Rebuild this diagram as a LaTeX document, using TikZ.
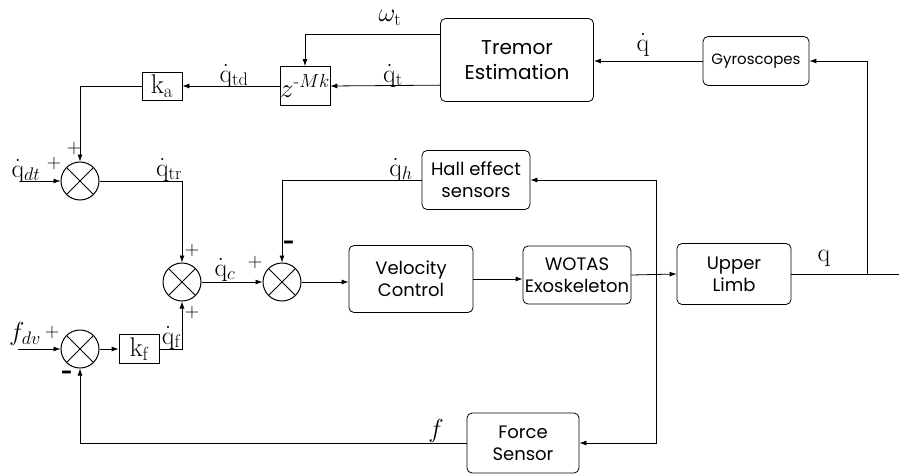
\RequirePackage{fix-cm}
\documentclass[tikz,border=0pt]{standalone}
\usepackage{amsmath}
\usepackage{fontspec}
\newfontfamily\boxfont{Poppins}
\usetikzlibrary{positioning, arrows.meta, calc}

\begin{document}
\begin{tikzpicture}[
    x=1pt, y=-1pt,
    >={Latex[length=7pt, width=5pt]},
    box/.style={
        draw, rounded corners=5pt, line width=0.8pt,
        align=center, inner sep=0pt,
        font=\boxfont\fontsize{18}{22}\selectfont,
    },
    gain/.style={draw, line width=0.8pt, inner sep=0pt, font=\fontsize{27}{30}\selectfont},
    sum/.style={draw, circle, line width=1pt, minimum size=38pt, inner sep=0pt,
        path picture={
            \draw[line width=0.8pt] (path picture bounding box.north west) -- (path picture bounding box.south east)
                (path picture bounding box.north east) -- (path picture bounding box.south west);
        }},
    sig/.style={font=\fontsize{26}{30}\selectfont, inner sep=0pt},
    sign/.style={font=\fontsize{20}{22}\selectfont, inner sep=0pt},
    neg/.style={font=\boxfont\bfseries\fontsize{20}{22}\selectfont, inner sep=0pt},
    arrow/.style={->, line width=0.8pt},
    line/.style={line width=0.8pt},
]
\useasboundingbox (0,0) rectangle (899,474);

% ============ BLOCKS ============
\node[box, minimum width=153pt, minimum height=83pt, font=\boxfont\fontsize{20}{25}\selectfont] (trem) at (517,60) {Tremor\\Estimation};
\node[box, minimum width=106pt, minimum height=49pt, font=\boxfont\fontsize{15}{18}\selectfont] (gyro) at (756,61) {Gyroscopes};
\node[box, minimum width=108pt, minimum height=59pt] (hall)  at (476,180) {Hall effect\\sensors};
\node[box, minimum width=124pt, minimum height=67pt] (vel)   at (411,279) {Velocity\\Control};
\node[box, minimum width=108pt, minimum height=58pt] (wotas) at (577,275) {WOTAS\\Exoskeleton};
\node[box, minimum width=114pt, minimum height=61pt] (limb)  at (734,274) {Upper\\Limb};
\node[box, minimum width=112pt, minimum height=60pt] (force) at (523,443) {Force\\Sensor};

\node[gain, minimum width=46pt, minimum height=39pt] (delay) at (305,86) {$z^{\text{-}Mk}$};
\node[gain, minimum width=40pt, minimum height=28pt] (ka) at (162,86) {$\mathrm{k}_{\mathrm{a}}$};
\node[gain, minimum width=40pt, minimum height=29pt] (kf) at (139,349) {$\mathrm{k}_{\mathrm{f}}$};

% summing junctions
\node[sum] (sumt) at (80,181) {};
\node[sum] (sumc) at (182,282) {};
\node[sum] (sumh) at (282,282) {};
\node[sum] (sumf) at (80,349) {};

% free ends
\coordinate (indt) at (20,181);
\coordinate (indv) at (18,349);
\coordinate (qout) at (899,274);
\coordinate (qtap) at (867,274);
\coordinate (tap)  at (656,274);

% ============ CONNECTIONS ============
\draw[arrow] (gyro.west) -- (gyro.west -| trem.east);
\draw[arrow] (qtap) |- (gyro.east);
\draw[line]  (limb.east) -- (qout);

\draw[arrow] ($(trem.north west)!0.2!(trem.south west)$) -| (delay.north);
\draw[arrow] ($(trem.north west)!0.8!(trem.south west)$) -- (delay.east);
\draw[arrow] (delay.west) -- (ka.east);
\draw[arrow] (ka.west) -| (sumt.north);
\draw[arrow] (indt) -- (sumt.west);
\draw[arrow] (sumt.east) -| (sumc.north);
\draw[arrow] (sumc.east) -- (sumh.west);
\draw[arrow] (hall.west) -| (sumh.north);
\draw[arrow] (sumh.east) -- (sumh.east -| vel.west);
\draw[arrow] (vel.east) -- (vel.east -| wotas.west);
\draw[arrow] (wotas.east) -- (limb.west);
\draw[arrow] (tap) |- (hall.east);
\draw[arrow] (tap) |- (force.east);
\draw[arrow] (force.west) -| (sumf.south);
\draw[arrow] (indv) -- (sumf.west);
\draw[arrow] (sumf.east) -- (kf.west);
\draw[arrow] (kf.east) -| (sumc.south);

% ============ SIGNALS ============
\node[sig] (lq)   at (643,45)  {$\dot{\mathrm{q}}$};
\node[sig] (lw)   at (390,18)  {$\omega_{\mathrm{t}}$};
\node[sig] (lqt)  at (393,76)  {$\dot{\mathrm{q}}_{\mathrm{t}}$};
\node[sig] (lqtd) at (234,76)  {$\dot{\mathrm{q}}_{\mathrm{td}}$};
\node[sig] (lqdt) at (26,171)  {$\dot{\mathrm{q}}_{dt}$};
\node[sig] (lqtr) at (169,170) {$\dot{\mathrm{q}}_{\mathrm{tr}}$};
\node[sig] (lqc)  at (225,270) {$\dot{\mathrm{q}}_{c}$};
\node[sig] (lqh)  at (401,170) {$\dot{\mathrm{q}}_{h}$};
\node[sig] (lqf)  at (171,338) {$\dot{\mathrm{q}}_{\mathrm{f}}$};
\node[sig] (lfdv) at (25,334)  {$f_{dv}$};
\node[sig] (lf)   at (436,431) {$f$};
\node[sig] (lqo)  at (824,258) {$\mathrm{q}$};

\node[sign] (p1) at (54,164)  {+};
\node[sign] (p2) at (74,149)  {+};
\node[sign] (p3) at (192,251) {+};
\node[sign] (p4) at (192,313) {+};
\node[sign] (p5) at (255,263) {+};
\node[neg]  (m1) at (289,245) {-};
\node[sign] (p6) at (52,333)  {+};
\node[neg]  (m2) at (67,375)  {-};

\end{tikzpicture}
\end{document}
